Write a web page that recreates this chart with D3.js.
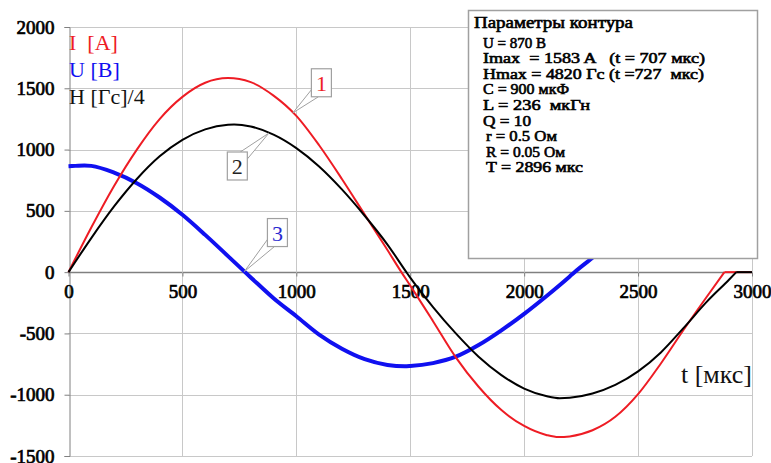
<!DOCTYPE html>
<html>
<head>
<meta charset="utf-8">
<script src="https://cdn.jsdelivr.net/npm/d3@7"></script>
<style>
  body { margin: 0; background: #fff; }
  svg { display: block; }
  text { font-family: "Liberation Serif", "Times New Roman", serif; }
</style>
</head>
<body>
<svg id="chart"></svg>
<script>
// values (t in мкс)
const timeI = [0, 100, 200, 300, 400, 500, 600, 700, 800, 900, 1000, 1100, 1200, 1300, 1400, 1461,
  1500, 1600, 1700, 1800, 1900, 2000, 2100, 2150, 2200, 2300, 2400, 2500, 2600, 2700, 2800, 2879, 3000];
const currentI = [0, 364, 703, 1000, 1249, 1430, 1545, 1583, 1550, 1440, 1275, 1035, 760, 470, 180, 0,
  -110, -400, -695, -935, -1125, -1255, -1330, -1346, -1340, -1290, -1180, -995, -745, -470, -205, 0, 0];

const timeH = [0, 100, 200, 300, 400, 500, 600, 700, 727, 800, 900, 1000, 1100, 1200, 1300, 1400, 1483,
  1500, 1600, 1700, 1800, 1900, 2000, 2100, 2156, 2200, 2300, 2400, 2500, 2600, 2700, 2800, 2900, 2931, 3000];
const fieldH4 = [0, 278, 536, 760, 945, 1080, 1165, 1203, 1205, 1188, 1122, 1012, 862, 675, 460, 225, 0,
  -45, -285, -500, -690, -840, -950, -1013, -1029, -1025, -990, -920, -810, -655, -455, -245, -60, 0, 0];

const timeU = [0, 30, 70, 100, 200, 300, 400, 500, 600, 700, 775, 800, 900, 1000, 1100, 1200, 1300, 1400,
  1476, 1500, 1600, 1700, 1800, 1900, 2000, 2100, 2200, 2221, 2300, 2400, 2500];
const voltageU = [864, 867, 871, 867, 812, 726, 609, 468, 304, 131, 0, -43, -213, -360, -510, -625, -710, -757,
  -768, -766, -742, -690, -595, -475, -340, -192, -35, 0, 117, 261, 389];

const xTicks = [0, 500, 1000, 1500, 2000, 2500, 3000];
const yTicks = [-1500, -1000, -500, 0, 500, 1000, 1500, 2000];

const legendLabels = ["I  [A]", "U [B]", "H [Гс]/4"];
const axisTitle = "t [мкс]";

const paramTitle = "Параметры контура";
const paramLines = [
  "U = 870 B",
  "Imax  = 1583 A   (t = 707 мкс)",
  "Hmax = 4820 Гс (t =727  мкс)",
  "C = 900 мкФ",
  "L = 236  мкГн",
  "Q = 10",
  "r = 0.5 Ом",
  "R = 0.05 Ом",
  "T = 2896 мкс"
];

// layout of the parameter lines (left edge, stretched width as in the picture)
const paramLeft = [483, 483, 483, 483, 483, 483, 486, 486, 486];
const paramWidth = [null, 222, 221, 86, 107, 48, 71, 79, 97];

const W = 771, H = 463;
const colI = "#ee1c24", colU = "#1010f0", colH = "#000000";

const svg = d3.select("#chart").attr("width", W).attr("height", H);

const x = d3.scaleLinear().domain([0, 3000]).range([68.5, 752]);
const y = d3.scaleLinear().domain([-1500, 2000]).range([456, 27]);

// bold look: the serif face is thickened with a thin stroke of its own colour
function fakeBold(sel, color, w) {
  sel.attr("fill", color).attr("stroke", color).attr("stroke-width", w || 0.6)
    .attr("paint-order", "stroke");
}

// grid
svg.append("g")
  .selectAll("line")
  .data(yTicks)
  .enter()
  .append("line")
  .attr("x1", x(0)).attr("x2", x(3000))
  .attr("y1", d => Math.round(y(d)) + 0.5).attr("y2", d => Math.round(y(d)) + 0.5)
  .attr("stroke", d => d === 0 ? "#808080" : "#c8c8c8")
  .attr("stroke-width", d => d === 0 ? 1.3 : 1);

svg.append("g")
  .selectAll("line")
  .data(xTicks.slice(1))
  .enter()
  .append("line")
  .attr("x1", d => Math.round(x(d)) + 0.5).attr("x2", d => Math.round(x(d)) + 0.5)
  .attr("y1", y(2000)).attr("y2", y(-1500))
  .attr("stroke", "#c8c8c8");

// y axis
const yAxis = svg.append("g")
  .attr("transform", `translate(${Math.round(x(0)) + 0.5},0)`)
  .call(d3.axisLeft(y).tickValues(yTicks).tickFormat(d => String(d)).tickSize(5).tickPadding(10));
yAxis.attr("font-family", null);
yAxis.select(".domain").attr("stroke", "#808080");
yAxis.selectAll(".tick line").attr("stroke", "#808080");
yAxis.selectAll("text").style("font-size", "19px").call(fakeBold, "#000", 0.7);

// x axis labels sit under the zero line
const xAxis = svg.append("g")
  .attr("transform", `translate(0,${Math.round(y(0)) + 0.5})`)
  .call(d3.axisBottom(x).tickValues(xTicks).tickFormat(d => String(d)).tickSize(4).tickPadding(8));
xAxis.attr("font-family", null);
xAxis.select(".domain").remove();
xAxis.selectAll(".tick line").attr("stroke", "#808080");
xAxis.selectAll("text").style("font-size", "19px").call(fakeBold, "#000", 0.7);

// curves: wave part smooth, flat tail straight
function drawSeries(ts, vs, color, width) {
  const pts = ts.map((t, i) => [t, vs[i]]);
  const lastZero = pts.length > 2 && pts[pts.length - 1][1] === 0 && pts[pts.length - 2][1] === 0;
  const wave = lastZero ? pts.slice(0, -1) : pts;
  const line = d3.line().x(d => x(d[0])).y(d => y(d[1])).curve(d3.curveMonotoneX);
  svg.append("path").datum(wave)
    .attr("fill", "none").attr("stroke", color).attr("stroke-width", width)
    .attr("stroke-linejoin", "round").attr("d", line);
  if (lastZero) {
    svg.append("path").datum(pts.slice(-2))
      .attr("fill", "none").attr("stroke", color).attr("stroke-width", width)
      .attr("d", d3.line().x(d => x(d[0])).y(d => y(d[1])));
  }
}
drawSeries(timeU, voltageU, colU, 4);
drawSeries(timeI, currentI, colI, 2);
drawSeries(timeH, fieldH4, colH, 2);

// callouts
function valueAt(ts, vs, t) {
  const i = d3.bisectRight(ts, t) - 1;
  const f = (t - ts[i]) / (ts[i + 1] - ts[i]);
  return vs[i] + f * (vs[i + 1] - vs[i]);
}
const callouts = [
  { text: "1", color: colI, ts: timeI, vs: currentI, tipT: 985, boxT: 1110, boxV: 1545, corner: "bl" },
  { text: "2", color: "#222", ts: timeH, vs: fieldH4, tipT: 880, boxT: 741, boxV: 866, corner: "tr" },
  { text: "3", color: "#2a2ad0", ts: timeU, vs: voltageU, tipT: 772, boxT: 917, boxV: 323, corner: "bl" }
];
callouts.forEach(c => {
  const tx = x(c.tipT), ty = y(valueAt(c.ts, c.vs, c.tipT));
  const cx = x(c.boxT), cy = y(c.boxV);
  const bw = 20, bh = 28;
  const x0 = cx - bw / 2, x1 = cx + bw / 2, y0 = cy - bh / 2, y1 = cy + bh / 2;
  const base = c.corner === "bl"
    ? [[x0, y1 - 7], [x0 + 7, y1]]
    : [[x1 - 7, y0], [x1, y0 + 7]];
  svg.append("polygon")
    .attr("points", [[tx, ty], base[0], base[1]].map(p => p.join(",")).join(" "))
    .attr("fill", "#fff").attr("stroke", "#a0a0a0").attr("stroke-width", 1);
  svg.append("rect")
    .attr("x", x0).attr("y", y0).attr("width", bw).attr("height", bh)
    .attr("fill", "#fff").attr("stroke", "#a0a0a0").attr("stroke-width", 1.2);
  svg.append("text")
    .attr("x", cx).attr("y", cy + 8)
    .attr("text-anchor", "middle")
    .style("font-size", "22px")
    .attr("fill", c.color)
    .text(c.text);
});

// legend text, top left
const legendColors = [colI, colU, "#111"];
svg.append("g")
  .selectAll("text")
  .data(legendLabels)
  .enter()
  .append("text")
  .attr("x", 69)
  .attr("y", (d, i) => 50 + i * 27)
  .style("font-size", "22px")
  .style("white-space", "pre")
  .attr("fill", (d, i) => legendColors[i])
  .text(d => d);

// axis title
svg.append("text")
  .attr("x", 752).attr("y", 383)
  .attr("text-anchor", "end")
  .style("font-size", "26px")
  .attr("fill", "#111")
  .text(axisTitle);

// parameter box
const box = svg.append("g");
box.append("rect")
  .attr("x", 468.5).attr("y", 10.5).attr("width", 289).attr("height", 248)
  .attr("fill", "#fff").attr("stroke", "#a0a0a0").attr("stroke-width", 1.5);
box.append("text")
  .attr("x", 474).attr("y", 28)
  .attr("textLength", 159).attr("lengthAdjust", "spacingAndGlyphs")
  .style("font-size", "16px")
  .call(fakeBold, "#000", 0.6)
  .text(paramTitle);
box.selectAll("text.p")
  .data(paramLines)
  .enter()
  .append("text")
  .attr("class", "p")
  .attr("x", (d, i) => paramLeft[i])
  .attr("y", (d, i) => 47.5 + i * 15.6)
  .attr("textLength", (d, i) => paramWidth[i])
  .attr("lengthAdjust", (d, i) => paramWidth[i] ? "spacingAndGlyphs" : null)
  .style("font-size", "15px")
  .style("white-space", "pre")
  .call(fakeBold, "#000", 0.6)
  .text(d => d);
</script>
</body>
</html>
